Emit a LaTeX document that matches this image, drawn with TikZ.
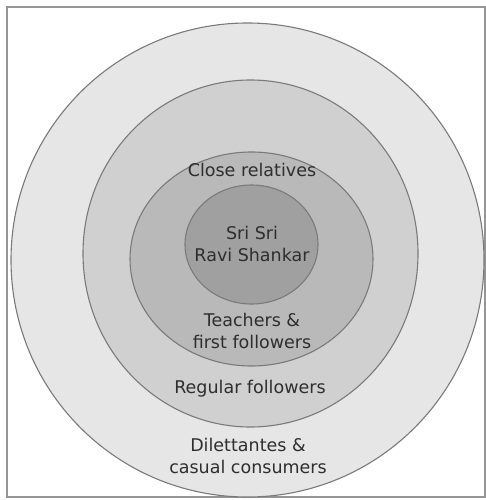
\documentclass[tikz,border=0pt]{standalone}
\usepackage{fontspec}
\setmainfont{DejaVu Sans}
\usepackage{tikz}
\usetikzlibrary{shapes.geometric}
\definecolor{ringouter}{HTML}{E6E6E6}
\definecolor{ringregular}{HTML}{D0D0D0}
\definecolor{ringteach}{HTML}{B9B9B9}
\definecolor{ringcore}{HTML}{A0A0A0}
\definecolor{ringline}{HTML}{7A7A7A}
\definecolor{labeltext}{HTML}{2E2E2E}

\begin{document}
\begin{tikzpicture}[
  x=1pt, y=-1pt,
  ring/.style={draw=ringline, ellipse, line width=1.1pt, inner sep=0pt},
  lbl/.style={align=center, text=labeltext, inner sep=0pt, font=\fontsize{17.5}{22}\selectfont}
]
  \useasboundingbox (0,0) rectangle (486,500);
  \node[draw=ringline!80, line width=1.5pt, minimum width=478pt, minimum height=490pt, inner sep=0pt] (frame) at (246,252) {};

  \node[ring, fill=ringouter, minimum width=473pt, minimum height=474pt] (outer) at (247.5,260) {};
  \node[ring, fill=ringregular, minimum width=335pt, minimum height=347pt] (regular) at (250.5,253.5) {};
  \node[ring, fill=ringteach, minimum width=243pt, minimum height=214pt] (teach) at (251.5,259) {};
  \node[ring, fill=ringcore, minimum width=133pt, minimum height=119pt] (core) at (251.5,244.5) {};

  \node[lbl] (closerel) at (252,170) {Close relatives};
  \node[lbl] (guru) at (252,244) {Sri Sri\\Ravi Shankar};
  \node[lbl] (teachers) at (252,331) {Teachers \&\\first followers};
  \node[lbl] (regfol) at (250,389) {Regular followers};
  \node[lbl] (casual) at (248,456) {Dilettantes \&\\casual consumers};
\end{tikzpicture}
\end{document}
